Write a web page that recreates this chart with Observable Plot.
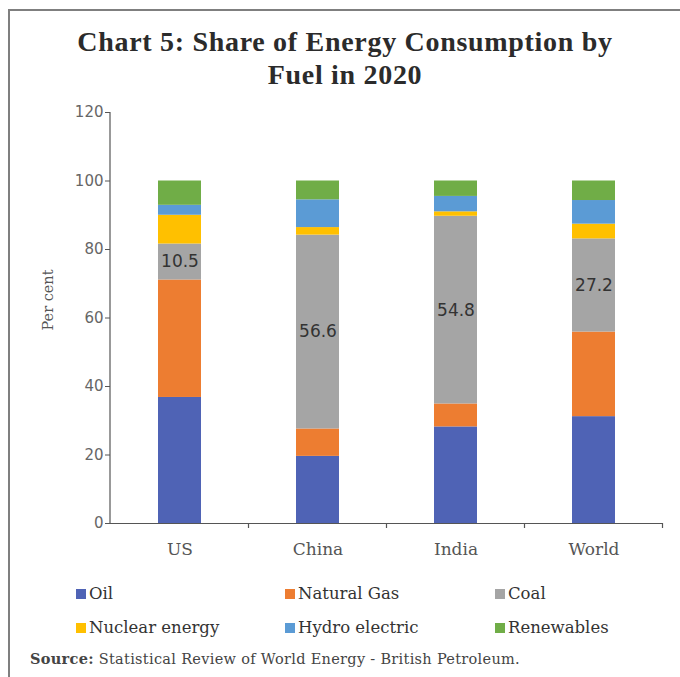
<!DOCTYPE html>
<html><head><meta charset="utf-8">
<script src="https://cdn.jsdelivr.net/npm/d3@7"></script>
<script src="https://cdn.jsdelivr.net/npm/@observablehq/plot@0.6"></script>
<style>
body{margin:0;background:#fff;}
#wrap{position:relative;width:680px;height:677px;overflow:hidden;background:#fff;}
#frame{position:absolute;left:8px;top:9px;width:720px;height:720px;border:2px solid #7f7f7f;}
#title{position:absolute;left:0;width:690px;top:25px;text-align:center;font-family:"Liberation Serif",serif;font-weight:bold;font-size:28px;letter-spacing:0.7px;line-height:33px;color:#2b2b2b;}
#chart{position:absolute;left:0;top:100px;}
#ylabel{position:absolute;left:48px;top:300px;transform:translate(-50%,-50%) rotate(-90deg);font-family:"DejaVu Serif",serif;font-size:14.5px;color:#555;white-space:nowrap;}
.leg{position:absolute;font-family:"DejaVu Serif",serif;font-size:16.5px;color:#333;white-space:nowrap;line-height:20px;}
.leg i{display:inline-block;width:10px;height:10px;margin-right:3px;vertical-align:0px;}
#source{position:absolute;left:30px;top:650px;font-family:"DejaVu Serif",serif;font-size:14.5px;letter-spacing:0.3px;color:#444;white-space:nowrap;}
</style>
</head><body>
<div id="wrap">
  <div id="frame"></div>
  <div id="title">Chart 5: Share of Energy Consumption by<br>Fuel in 2020</div>
  <div id="chart"></div>
  <div id="ylabel">Per cent</div>
  <div id="legend"></div>
  <div id="source"><b>Source:</b> Statistical Review of World Energy - British Petroleum.</div>
</div>
<script>
const categories = ["US", "China", "India", "World"];
const fuels = ["Oil", "Natural Gas", "Coal", "Nuclear energy", "Hydro electric", "Renewables"];
const oil = [36.8, 19.6, 28.2, 31.2];
const naturalGas = [34.3, 8.0, 6.7, 24.7];
const coal = [10.5, 56.6, 54.8, 27.2];
const nuclear = [8.4, 2.2, 1.3, 4.3];
const hydro = [2.9, 8.1, 4.5, 6.9];
const renewables = [7.1, 5.5, 4.5, 5.7];
const colors = ["#4f63b5", "#ed7d31", "#a5a5a5", "#ffc000", "#5b9bd5", "#70ad47"];
const yTicks = [0, 20, 40, 60, 80, 100, 120];

const series = [oil, naturalGas, coal, nuclear, hydro, renewables];
const data = [];
fuels.forEach((f, i) => categories.forEach((c, j) => data.push({country: c, fuel: f, value: series[i][j]})));

const axisColor = "#555";

function bandTicks(index, scales, values, dims) {
  const x = scales.x, y = scales.y;
  const g = d3.create("svg:g").attr("stroke", axisColor).attr("fill", "none").attr("stroke-width", 1.2);
  const step = x.step(), bw = x.bandwidth();
  const y0 = y(0);
  const bounds = categories.map(c => x(c) + bw / 2 - step / 2);
  bounds.push(x(categories[categories.length - 1]) + bw / 2 + step / 2);
  bounds.slice(1).forEach(b => g.append("line").attr("x1", b).attr("x2", b).attr("y1", y0).attr("y2", y0 + 5));
  g.append("line").attr("x1", dims.marginLeft).attr("x2", dims.marginLeft).attr("y1", y(0)).attr("y2", y(yTicks[yTicks.length - 1]));
  return g.node();
}

const plot = Plot.plot({
  width: 680,
  height: 463,
  marginLeft: 110,
  marginRight: 18,
  marginTop: 12,
  marginBottom: 40,
  style: {background: "transparent"},
  x: {domain: categories, paddingInner: 0.69, paddingOuter: 0.345, label: null},
  y: {domain: [0, 120], label: null},
  color: {domain: fuels, range: colors},
  marks: [
    Plot.barY(data, {x: "country", y: "value", fill: "fuel", z: "fuel"}),
    Plot.text(data, Plot.stackY({x: "country", y: "value", z: "fuel",
      text: d => d.fuel === "Coal" ? d.value.toFixed(1) : "",
      fontSize: 17, fill: "#333", fontFamily: "DejaVu Sans"})),
    Plot.ruleY([0], {stroke: axisColor, strokeWidth: 1.2}),
    Plot.axisY({ticks: yTicks, tickSize: 5, tickPadding: 2, stroke: axisColor, fill: "#666",
      fontSize: 15, fontFamily: "DejaVu Sans", label: null, tickFormat: d3.format("d")}),
    Plot.axisX({tickSize: 0, tickPadding: 19, fill: "#555", fontSize: 17, fontFamily: "DejaVu Serif", label: null}),
    bandTicks
  ]
});
document.getElementById("chart").appendChild(plot);

const legendPos = [
  {x: 76, y: 584}, {x: 285, y: 584}, {x: 495, y: 584},
  {x: 76, y: 618}, {x: 285, y: 618}, {x: 495, y: 618}
];
const legend = document.getElementById("legend");
fuels.forEach((f, i) => {
  const d = document.createElement("div");
  d.className = "leg";
  d.style.left = legendPos[i].x + "px";
  d.style.top = legendPos[i].y + "px";
  d.innerHTML = `<i style="background:${colors[i]}"></i>${f}`;
  legend.appendChild(d);
});
</script>
</body></html>
